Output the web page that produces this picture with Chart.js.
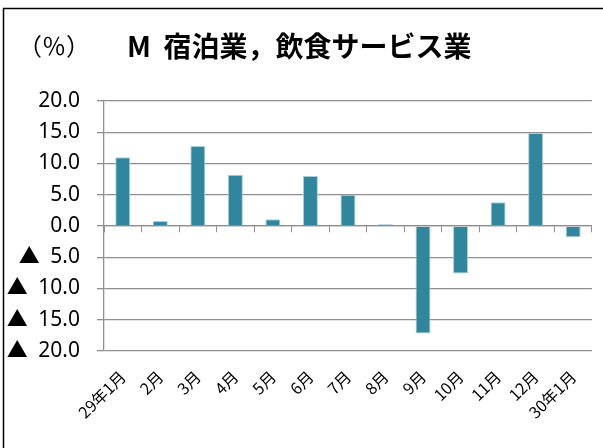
<!DOCTYPE html>
<html>
<head>
<meta charset="utf-8">
<script src="https://cdn.jsdelivr.net/npm/chart.js@4"></script>
<style>
  html, body { margin: 0; padding: 0; background: #fff; }
  #wrap { width: 603px; height: 448px; position: relative; }
</style>
</head>
<body>
<div id="wrap"><canvas id="chart"></canvas></div>
<script>
const months = ['29年1月', '2月', '3月', '4月', '5月', '6月', '7月', '8月', '9月', '10月', '11月', '12月', '30年1月'];
const changeRate = [11.0, 0.8, 12.8, 8.2, 1.1, 8.0, 5.0, 0.3, -17.2, -7.6, 3.8, 14.9, -1.8];
const yTicks = { min: -20, max: 20, step: 5 };

const titleText = 'M  宿泊業，飲食サービス業';
const unitText = '（％）';

const gridGray = '#8f8f8f';

// frame and header text
const headerPlugin = {
  id: 'header',
  beforeDraw(chart) {
    const ctx = chart.ctx;
    ctx.save();
    ctx.fillStyle = '#fff';
    ctx.fillRect(0, 0, chart.width, chart.height);
    ctx.strokeStyle = '#000';
    ctx.lineWidth = 1.5;
    ctx.strokeRect(3.5, 8.5, 700, 600);
    ctx.fillStyle = '#000';
    ctx.textBaseline = 'middle';
    ctx.textAlign = 'left';
    ctx.font = '24px "Noto Sans CJK JP"';
    ctx.fillText(unitText, 18, 46);
    ctx.font = 'bold 28px "Noto Sans CJK JP"';
    ctx.fillText(titleText, 127, 46);
    ctx.restore();
  }
};

const canvas = document.getElementById('chart');
const context = canvas.getContext('2d');
const chart = new Chart(context, {
  type: 'bar',
  data: {
    labels: months,
    datasets: [
      {
        label: '宿泊業，飲食サービス業',
        data: changeRate,
        backgroundColor: '#31869e',
        borderColor: '#a8d0dc',
        borderWidth: 1,
        barPercentage: 0.4,
        categoryPercentage: 1.0
      }
    ]
  },
  options: {
    responsive: true,
    maintainAspectRatio: false,
    animation: false,
    layout: {
      padding: { top: 101, right: 7, left: 0, bottom: 0 }
    },
    plugins: {
      legend: { display: false },
      title: { display: false },
      tooltip: { enabled: false }
    },
    scales: {
      x: {
        type: 'category',
        offset: true,
        grid: { display: false, drawTicks: false },
        border: { display: false },
        ticks: {
          minRotation: 45,
          maxRotation: 45,
          padding: 16,
          color: '#000',
          font: { family: '"Noto Sans CJK JP"', size: 16 }
        },
        afterFit(scale) { scale.height = 97; }
      },
      x2: {
        type: 'category',
        position: { y: 0 },
        offset: true,
        grid: {
          offset: true,
          drawOnChartArea: false,
          tickLength: 6,
          color: gridGray,
          lineWidth: 1
        },
        border: { display: true, color: gridGray, width: 1.3 },
        ticks: { display: false }
      },
      y: {
        min: yTicks.min,
        max: yTicks.max,
        grid: {
          color: gridGray,
          lineWidth: 1.3,
          tickLength: 7
        },
        border: { display: true, color: gridGray, width: 1.3 },
        ticks: {
          stepSize: yTicks.step,
          padding: 17,
          color: '#000',
          font: { family: '"Noto Sans", "Noto Sans CJK JP"', size: 21 },
          callback: v => v < 0 ? '▲\u2002' + Math.abs(v).toFixed(1) : v.toFixed(1)
        },
        afterFit(scale) { scale.width = 104; }
      }
    }
  },
  plugins: [headerPlugin]
});
</script>
</body>
</html>
